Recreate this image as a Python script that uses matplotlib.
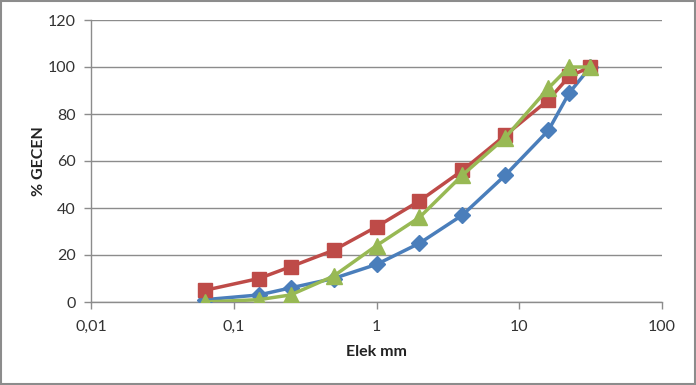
import matplotlib
matplotlib.use("Agg")
import matplotlib.pyplot as plt
from matplotlib.patches import Rectangle
from matplotlib.ticker import FixedLocator, FixedFormatter, NullLocator

plt.rcParams["font.family"] = ["Lato", "DejaVu Sans"]

# sieve sizes (mm) and percent passing
sieve = [0.063, 0.15, 0.25, 0.5, 1, 2, 4, 8, 16, 22.4, 31.5]
blue_vals = [1, 3, 6, 10, 16, 25, 37, 54, 73, 89, 100]
red_vals = [5, 10, 15, 22, 32, 43, 56, 71, 86, 96, 100]
green_vals = [0, 1, 3, 11, 24, 36, 54, 70, 91, 100, 100]

x_ticks = [0.01, 0.1, 1, 10, 100]
x_labels = ["0,01", "0,1", "1", "10", "100"]
y_ticks = [0, 20, 40, 60, 80, 100, 120]

BLUE = "#4A7EBB"
RED = "#BE4B48"
GREEN = "#98B954"
GRID = "#8C8C8C"

fig = plt.figure(figsize=(6.96, 3.85), dpi=100)
ax = fig.add_axes([91 / 696, 1 - 302 / 385, (662 - 91) / 696, (302 - 20) / 385])

ax.plot(sieve, blue_vals, color=BLUE, lw=2.5, marker="D", ms=8,
        mec=BLUE, mfc=BLUE, zorder=3)
ax.plot(sieve, red_vals, color=RED, lw=2.5, marker="s", ms=10,
        mec=RED, mfc=RED, zorder=4)
ax.plot(sieve, green_vals, color=GREEN, lw=2.5, marker="^", ms=11,
        mec=GREEN, mfc=GREEN, zorder=5)

ax.set_xscale("log")
ax.set_xlim(0.01, 100)
ax.set_ylim(0, 120)
ax.xaxis.set_major_locator(FixedLocator(x_ticks))
ax.xaxis.set_major_formatter(FixedFormatter(x_labels))
ax.xaxis.set_minor_locator(NullLocator())
ax.set_yticks(y_ticks)

ax.grid(axis="y", color=GRID, lw=1)
ax.set_axisbelow(True)
for side in ("top", "right"):
    ax.spines[side].set_visible(False)
for side in ("left", "bottom"):
    ax.spines[side].set_color(GRID)
    ax.spines[side].set_linewidth(1)
ax.tick_params(axis="both", colors=GRID, length=5, width=1, labelsize=11.5,
               labelcolor="#333333")
ax.tick_params(axis="x", pad=8)
ax.tick_params(axis="y", pad=6)

ax.set_xlabel("Elek mm", fontsize=11.5, weight="bold", color="#222222",
              labelpad=8)
ax.set_ylabel("% GECEN", fontsize=11.5, weight="bold", color="#222222",
              labelpad=1)

fig.patches.append(Rectangle((1 / 696, 1 / 385), 694 / 696, 383 / 385,
                             transform=fig.transFigure, fill=False,
                             ec="#8C8C8C", lw=1.5))

fig.savefig("out.png", dpi=100)
